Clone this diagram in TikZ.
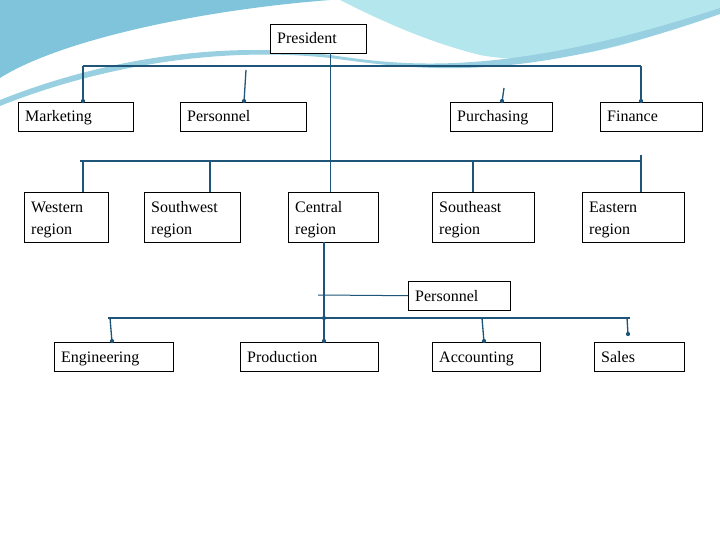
\documentclass[tikz,border=0pt]{standalone}
\usepackage{fontspec}
\setmainfont{Liberation Serif}
\begin{document}
\begin{tikzpicture}[x=1pt,y=-1pt,
  box/.style={draw=black,fill=white,inner sep=0pt,anchor=north west},
  lbl/.style={anchor=base west,inner sep=0pt,font=\fontsize{16}{22}\selectfont},
  ln/.style={draw=lineblue,line width=1.3pt},
  dot/.style={fill=lineblue,circle,inner sep=1.5pt}]
\definecolor{lineblue}{HTML}{1F5579}
\definecolor{swA}{HTML}{7FC4DA}
\definecolor{swB}{HTML}{B4E6EE}
\useasboundingbox (0,0) rectangle (720,540);
\fill[white] (0,0) rectangle (720,540);
% decoration
\fill[swA] (0,0) -- (330,0) .. controls (200,10) and (60,40) .. (0,78) -- cycle;
\fill[swB] (340,0) -- (720,0) -- (720,10) .. controls (650,40) and (560,70) .. (480,55) .. controls (420,40) and (370,15) .. (340,0) -- cycle;
\fill[swA!80!white] (0,100) .. controls (100,60) and (220,40) .. (330,55) .. controls (400,65) and (500,80) .. (720,8) -- (720,14) .. controls (520,85) and (420,70) .. (330,58) .. controls (220,46) and (100,66) .. (0,106) -- cycle;
% boxes
\newcommand{\bx}[6]{\node[box,minimum width=#4-#2,minimum height=#5-#3] (#1) at (#2,#3) {};
  \node[lbl] at (#2+7,{(#3+#5)/2+5.5}) {#6};}
\newcommand{\bxx}[7]{\node[box,minimum width=#4-#2,minimum height=#5-#3] (#1) at (#2,#3) {};
  \node[lbl] at (#2+7,{(#3+#5)/2-5}) {#6};
  \node[lbl] at (#2+7,{(#3+#5)/2+17}) {#7};}
\bx{pres}{270}{24}{366}{53}{President}
\bx{mkt}{18}{102}{133}{131}{Marketing}
\bx{per}{180}{102}{306}{131}{Personnel}
\bx{pur}{450}{102}{552}{131}{Purchasing}
\bx{fin}{600}{102}{702}{131}{Finance}
\bxx{wes}{24}{192}{108}{242}{Western}{region}
\bxx{sw}{144}{192}{240}{242}{Southwest}{region}
\bxx{cen}{288}{192}{378}{242}{Central}{region}
\bxx{se}{432}{192}{534}{242}{Southeast}{region}
\bxx{eas}{582}{192}{684}{242}{Eastern}{region}
\bx{per2}{408}{281}{510}{310}{Personnel}
\bx{eng}{54}{342}{173}{371}{Engineering}
\bx{pro}{240}{342}{378}{371}{Production}
\bx{acc}{432}{342}{540}{371}{Accounting}
\bx{sal}{594}{342}{684}{371}{Sales}
% connectors
\coordinate (b1l) at (83,66); \coordinate (b1r) at (641,66);
\draw[ln] (b1l) -- (b1r);
\draw[ln,line width=1pt] (pres.south-|330,0) -- (cen.north-|330,0);
\draw[ln] (b1l) -- (mkt.north-|83,0);
\draw[ln] (246,70) -- (per.north-|244,0);
\draw[ln] (504,88) -- (pur.north-|502,0);
\draw[ln] (b1r) -- (fin.north-|641,0);
\foreach \x in {83,244,502,641} \node[dot] at (\x,101) {};
\draw[ln] (80,161) -- (641,161);
\draw[ln] (641,155) -- (eas.north-|641,0);
\draw[ln] (83,161) -- (wes.north-|83,0);
\draw[ln] (210,161) -- (sw.north-|210,0);
\draw[ln] (473,161) -- (se.north-|473,0);
\draw[ln] (cen.south-|324,0) -- (pro.north-|324,0);
\draw[ln,line width=1pt] (318,295) -- (per2.west);
\draw[ln] (108,318) -- (630,318);
\draw[ln] (110,318) -- (eng.north-|112,0);
\draw[ln] (482,318) -- (acc.north-|484,0);
\draw[ln] (627,318) -- (628,334);
\foreach \x/\y in {112/341,324/341,484/341,628/334,324/318} \node[dot] at (\x,\y) {};
\end{tikzpicture}
\end{document}
